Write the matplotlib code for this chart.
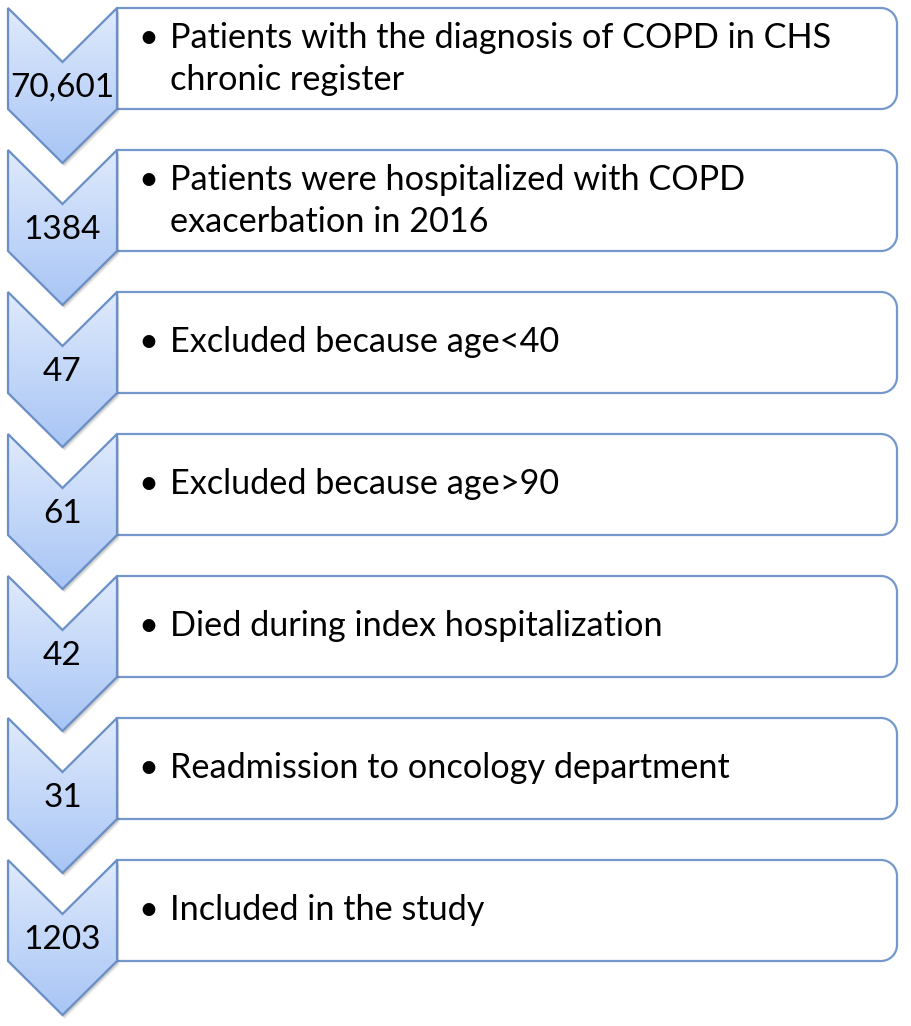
import matplotlib
matplotlib.use("Agg")
import matplotlib.pyplot as plt
import numpy as np
from matplotlib.patches import Polygon, PathPatch
from matplotlib.path import Path
from matplotlib.colors import LinearSegmentedColormap

counts = ["70,601", "1384", "47", "61", "42", "31", "1203"]
descriptions = [
    "Patients with the diagnosis of COPD in CHS\nchronic register",
    "Patients were hospitalized with COPD\nexacerbation in 2016",
    "Excluded because age<40",
    "Excluded because age>90",
    "Died during index hospitalization",
    "Readmission to oncology department",
    "Included in the study",
]

W, H = 912, 1026
fig = plt.figure(figsize=(W / 100, H / 100), dpi=100)
ax = fig.add_axes([0, 0, 1, 1])
ax.set_xlim(0, W)
ax.set_ylim(H, 0)
ax.axis("off")

FONT = ["Lato", "DejaVu Sans"]
chev_l, chev_r = 8, 117
chev_c = (chev_l + chev_r) / 2
box_r = 897
box_h = 101
notch = 54
tip = 155
step = 142
rad = 16

edge_chev = "#6a8fc6"
edge_box = "#7498cc"
cmap = LinearSegmentedColormap.from_list("g", ["#dfeafc", "#a8c5f5"])
grad = np.linspace(0, 1, 256).reshape(-1, 1)

for i, (cnt, desc) in enumerate(zip(counts, descriptions)):
    top = 8 + step * i
    bot = top + box_h
    k = 0.5523 * rad
    verts = [
        (chev_r, top), (box_r - rad, top),
        (box_r - rad + k, top), (box_r, top + rad - k), (box_r, top + rad),
        (box_r, bot - rad),
        (box_r, bot - rad + k), (box_r - rad + k, bot), (box_r - rad, bot),
        (chev_r, bot), (chev_r, top),
    ]
    codes = [Path.MOVETO, Path.LINETO,
             Path.CURVE4, Path.CURVE4, Path.CURVE4,
             Path.LINETO,
             Path.CURVE4, Path.CURVE4, Path.CURVE4,
             Path.LINETO, Path.CLOSEPOLY]
    ax.add_patch(PathPatch(Path(verts, codes), facecolor="white",
                           edgecolor=edge_box, lw=1.6, zorder=2))

    pts = [(chev_l, top), (chev_c, top + notch), (chev_r, top),
           (chev_r, bot), (chev_c, top + tip), (chev_l, bot)]
    for off, a in [(4, 0.06), (3, 0.08), (2, 0.10)]:
        sp = [(x + off * 0.6, y + off) for x, y in pts]
        ax.add_patch(Polygon(sp, closed=True, facecolor="black",
                             edgecolor="none", alpha=a, zorder=3))
    poly = Polygon(pts, closed=True, facecolor="none",
                   edgecolor=edge_chev, lw=1.6, zorder=5)
    ax.add_patch(poly)
    im = ax.imshow(grad, cmap=cmap, aspect="auto",
                   extent=(chev_l, chev_r, top + tip, top), zorder=4,
                   interpolation="bilinear")
    clip = Polygon(pts, closed=True, transform=ax.transData)
    im.set_clip_path(clip)

    ax.text(chev_c, top + 80, cnt, ha="center", va="center",
            fontsize=24, family=FONT, color="black", zorder=6)

    cy = (top + bot) / 2
    lines = desc.split("\n")
    n = len(lines)
    lh = 42
    for j, ln in enumerate(lines):
        y = cy + (j - (n - 1) / 2) * lh
        if j == 0:
            ax.text(148, y, "\u2022", ha="center", va="center",
                    fontsize=24.7, family=FONT, color="black", zorder=6)
        ax.text(170, y, ln, ha="left", va="center",
                fontsize=24.7, family=FONT, color="black", zorder=6)

fig.savefig("out.png", dpi=100)
